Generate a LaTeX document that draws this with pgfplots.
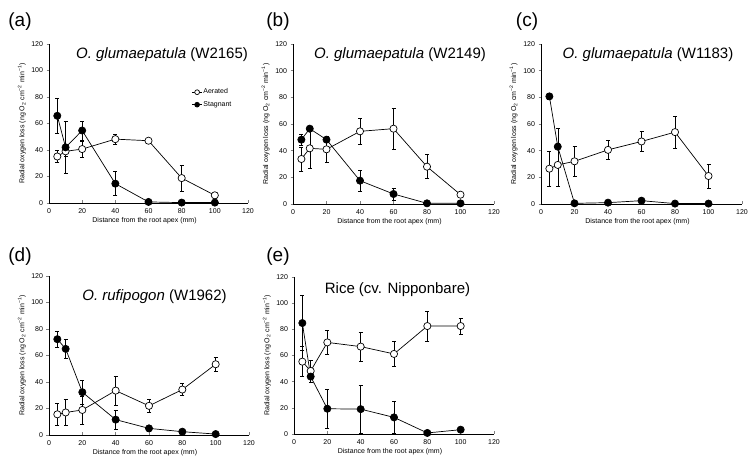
\documentclass[border=0pt]{standalone}
\usepackage{fontspec}
\setmainfont{Liberation Sans}
\usepackage{pgfplots}
\pgfplotsset{compat=1.18}
\pgfplotsset{
  rol/.style={
    scale only axis,
    anchor=south west,
    xmin=0,xmax=120,ymin=0,ymax=120,
    xtick={0,20,...,120}, ytick={0,20,...,120},
    axis x line*=bottom, axis y line*=left,
    x tick style={line width=0.5pt}, y tick style={line width=0.5pt},
    xtick align=inside, ytick align=outside,
    major tick length=2.5pt,
    axis line style={line width=0.6pt},
    tick label style={font=\fontsize{7}{8}\selectfont},
    /pgf/number format/assume math mode=true,
    xticklabel style={yshift=-2pt},
    xlabel={Distance from the root apex (mm)},
    ylabel={Radial oxygen loss (ng O\textsubscript{2} cm\textsuperscript{−2} min\textsuperscript{−1})},
    xlabel style={font=\fontsize{7}{8}\selectfont, at={(axis description cs:0.48,0)}, anchor=center, yshift=-18pt},
    ylabel style={font=\fontsize{7}{8}\selectfont, at={(axis description cs:-0.136,0.5)}, anchor=center},
    clip=false,
  },
  aer/.style={black, line width=0.7pt, mark=*, mark size=3.6pt, mark options={fill=white, line width=0.7pt},
    error bars/.cd, y dir=both, y explicit,
    error bar style={line width=0.5pt},
    error mark options={rotate=90, mark size=2pt, line width=0.5pt}},
  stg/.style={black, line width=0.7pt, mark=*, mark size=3.6pt, mark options={fill=black, line width=0.7pt},
    error bars/.cd, y dir=both, y explicit,
    error bar style={line width=0.5pt},
    error mark options={rotate=90, mark size=2pt, line width=0.5pt}},
}
\begin{document}
\begin{tikzpicture}
\path[use as bounding box] (0pt,0pt) rectangle (754pt,465pt);

% (a)
\begin{axis}[rol, at={(49pt,262pt)}, width=199pt, height=159pt,
  legend style={draw=none, fill=none, at={(axis cs:86,87)}, anchor=north west, inner sep=0pt,
    font=\fontsize{7}{8}\selectfont, row sep=4pt, nodes={inner sep=1pt}},
  legend cell align=left,
  legend image code/.code={\draw[mark size=2.4pt, mark repeat=2, mark phase=2, line width=0.6pt] plot coordinates {(0pt,0pt) (5pt,0pt) (10pt,0pt)};}]
\addplot[aer] coordinates {(5,35.1) +- (0,4.5) (10,39) +- (0,4) (20,40.7) +- (0,6) (40,48.2) +- (0,3.5) (60,47) +- (0,2) (80,18.8) +- (0,9.7) (100,5.8) +- (0,2)};
\addlegendentry{Aerated}
\addplot[stg] coordinates {(5,65.8) +- (0,13.5) (10,42) +- (0,19.5) (20,54.7) +- (0,7) (40,14.6) +- (0,9) (60,0.8) +- (0,0.5) (80,0.3) +- (0,0) (100,0.3) +- (0,0)};
\addlegendentry{Stagnant}
\end{axis}

% (b)
\begin{axis}[rol, at={(293pt,261pt)}, width=201pt, height=160pt]
\addplot[aer] coordinates {(5,33.75) +- (0,9) (10,41.75) +- (0,15) (20,41) +- (0,10) (40,54.5) +- (0,9.5) (60,56.5) +- (0,15.5) (80,28) +- (0,9) (100,7) +- (0,1)};
\addplot[stg] coordinates {(5,48.25) +- (0,4) (10,56.5) +- (0,2) (20,48.25) +- (0,2) (40,17.5) +- (0,7.7) (60,7.5) +- (0,4.5) (80,0.5) +- (0,0) (100,0.5) +- (0,0)};
\end{axis}

% (c)
\begin{axis}[rol, at={(541pt,261pt)}, width=201pt, height=160pt]
\addplot[aer] coordinates {(5,26.5) +- (0,13) (10,29.3) +- (0,16) (20,32) +- (0,11) (40,40.6) +- (0,7) (60,46.9) +- (0,7.3) (80,53.9) +- (0,12) (100,21) +- (0,9)};
\addplot[stg] coordinates {(5,80.7) +- (0,2) (10,43) +- (0,14) (20,0.5) +- (0,0) (40,1) +- (0,0) (60,2.5) +- (0,1) (80,0.3) +- (0,0) (100,0.3) +- (0,0)};
\end{axis}

% (d)
\begin{axis}[rol, at={(49pt,30pt)}, width=200pt, height=159pt]
\addplot[aer] coordinates {(5,15.6) +- (0,8.5) (10,17) +- (0,10) (20,18.9) +- (0,10.5) (40,33.5) +- (0,11) (60,22) +- (0,5) (80,34.3) +- (0,4.5) (100,53.4) +- (0,5.5)};
\addplot[stg] coordinates {(5,72.3) +- (0,6.3) (10,65) +- (0,7.4) (20,32.3) +- (0,9) (40,11.6) +- (0,7) (60,5) +- (0,2) (80,2.5) +- (0,1) (100,0.7) +- (0,0)};
\end{axis}

% (e)
\begin{axis}[rol, at={(294pt,31pt)}, width=200pt, height=157pt]
\addplot[aer] coordinates {(5,55.3) +- (0,11.5) (10,48.2) +- (0,8.3) (20,70) +- (0,9) (40,66.8) +- (0,11) (60,61.2) +- (0,9.8) (80,82.5) +- (0,11.5) (100,82.5) +- (0,6)};
\addplot[stg] coordinates {(5,84.8) +- (0,21) (10,43.9) +- (0,4) (20,19.3) +- (0,14.6) (40,19) +- (0,18.5) (60,12.7) +- (0,12.5) (80,0.8) +- (0,0) (100,3.3) +- (0,0.5)};
\end{axis}

% titles
\node[font=\fontsize{15}{17}\selectfont] at (162pt,410pt) {\textit{O. glumaepatula} (W2165)};
\node[font=\fontsize{15}{17}\selectfont] at (400pt,410pt) {\textit{O. glumaepatula} (W2149)};
\node[font=\fontsize{15}{17}\selectfont] at (648pt,410pt) {\textit{O. glumaepatula} (W1183)};
\node[font=\fontsize{15}{17}\selectfont] at (154.5pt,168pt) {\textit{O. rufipogon} (W1962)};
\node[font=\fontsize{15}{17}\selectfont] at (397.5pt,175pt) {Rice (cv. Nipponbare)};
% panel labels
\node[font=\fontsize{19}{21}\selectfont] at (20pt,443pt) {(a)};
\node[font=\fontsize{19}{21}\selectfont] at (278pt,443pt) {(b)};
\node[font=\fontsize{19}{21}\selectfont] at (527pt,443pt) {(c)};
\node[font=\fontsize{19}{21}\selectfont] at (20pt,208pt) {(d)};
\node[font=\fontsize{19}{21}\selectfont] at (278pt,208pt) {(e)};
\end{tikzpicture}
\end{document}
